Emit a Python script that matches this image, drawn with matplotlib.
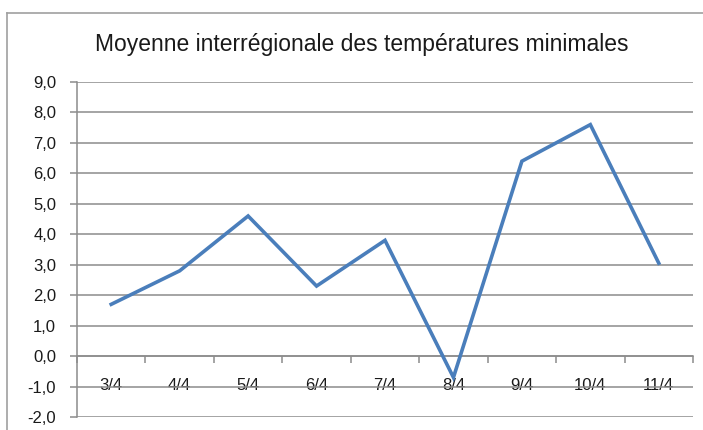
import matplotlib
matplotlib.use("Agg")
import matplotlib.pyplot as plt
from matplotlib.lines import Line2D
from matplotlib.ticker import FixedLocator, NullFormatter

plt.rcParams['font.family'] = ['Liberation Sans', 'DejaVu Sans']

title = "Moyenne interrégionale des températures minimales"
categories = ["3/4", "4/4", "5/4", "6/4", "7/4", "8/4", "9/4", "10/4", "11/4"]
values = [1.7, 2.8, 4.6, 2.3, 3.8, -0.7, 6.4, 7.6, 3.05]
yticks = [-2, -1, 0, 1, 2, 3, 4, 5, 6, 7, 8, 9]
ytick_labels = ["-2,0", "-1,0", "0,0", "1,0", "2,0", "3,0", "4,0", "5,0", "6,0", "7,0", "8,0", "9,0"]

W, H = 703, 430
fig = plt.figure(figsize=(W / 100, H / 100), dpi=100)
fig.patch.set_facecolor('white')

left, right, top, bottom = 77, 693, 82, 417
ax = fig.add_axes([left / W, 1 - bottom / H, (right - left) / W, (bottom - top) / H])

grid_c = '#8c8c8c'
x = list(range(len(categories)))
ax.plot(x, values, color='#4a7ebb', lw=2.6, solid_joinstyle='miter', zorder=3)

ax.set_xlim(-0.5, len(categories) - 0.5)
ax.set_ylim(-2, 9)
ax.set_yticks(yticks)
ax.set_yticklabels(ytick_labels)
ax.yaxis.grid(True, color=grid_c, lw=1.1)
ax.set_axisbelow(True)

for s in ['top', 'right']:
    ax.spines[s].set_visible(False)
ax.spines['left'].set_color(grid_c)
ax.spines['left'].set_linewidth(1.1)
ax.spines['bottom'].set_position(('data', 0))
ax.spines['bottom'].set_color(grid_c)
ax.spines['bottom'].set_linewidth(1.1)

# category boundaries as major ticks, labels on minor ticks at centers
ax.xaxis.set_major_locator(FixedLocator([i - 0.5 for i in range(len(categories) + 1)]))
ax.xaxis.set_major_formatter(NullFormatter())
ax.xaxis.set_minor_locator(FixedLocator(x))
ax.set_xticklabels(categories, minor=True)
ax.tick_params(axis='x', which='major', direction='out', length=5, color=grid_c, width=1.1)
ax.tick_params(axis='x', which='minor', length=0, pad=16, labelsize=12, labelcolor='#1a1a1a')
ax.tick_params(axis='y', direction='out', length=5, color=grid_c, width=1.1, pad=10,
               labelsize=12, labelcolor='#1a1a1a')

fig.text(362 / W, 1 - 45 / H, title, ha='center', va='center', fontsize=16.5, color='#1a1a1a')

# outer chart border (partially visible)
fig.add_artist(Line2D([7 / W, 7 / W], [0, 1 - 13 / H], transform=fig.transFigure,
                      color='#a0a0a0', lw=1.2))
fig.add_artist(Line2D([7 / W, 1], [1 - 13 / H, 1 - 13 / H], transform=fig.transFigure,
                      color='#a0a0a0', lw=1.2))

fig.savefig("out.png", dpi=100)
